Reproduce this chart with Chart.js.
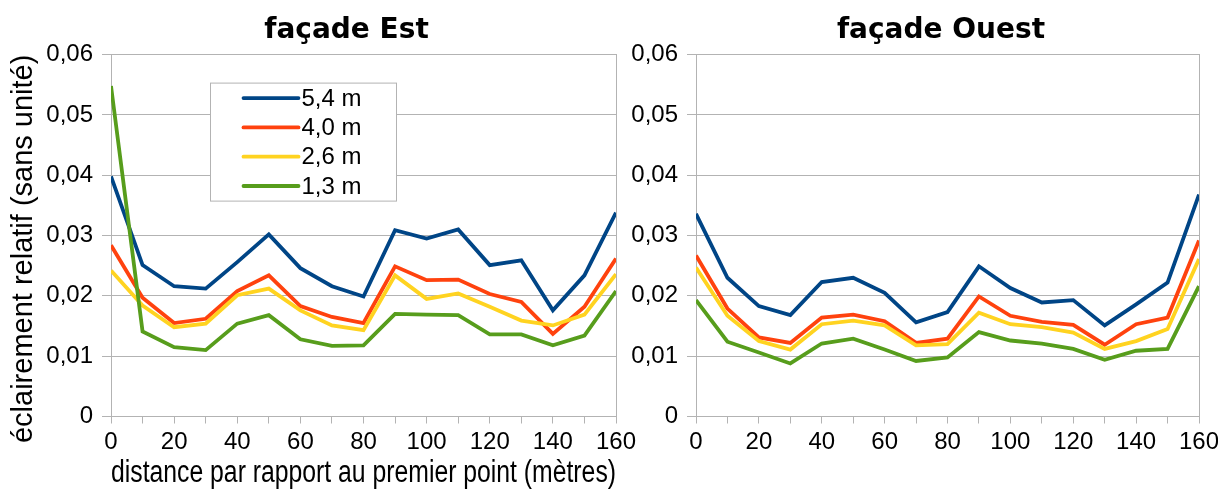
<!DOCTYPE html>
<html>
<head>
<meta charset="utf-8">
<script src="https://cdn.jsdelivr.net/npm/chart.js@4/dist/chart.umd.min.js"></script>
<style>
  html, body { margin:0; padding:0; background:#fff; width:1218px; height:491px; overflow:hidden; position:relative; }
  canvas { position:absolute; top:0; }
  #est { left:0; }
  #ouest { left:626px; }
</style>
</head>
<body>
<canvas id="est" width="693" height="491"></canvas>
<canvas id="ouest" width="630" height="491"></canvas>
<script>
// ---- data ----
const distances = [0,10,20,30,40,50,60,70,80,90,100,110,120,130,140,150,160];
const seriesNames = ['5,4 m','4,0 m','2,6 m','1,3 m'];
const seriesColors = ['#004586','#ff420e','#ffd320','#579d1c'];
const titles = ['façade Est','façade Ouest'];
const xAxisTitle = 'distance par rapport au premier point (mètres)';
const yAxisTitle = 'éclairement relatif (sans unité)';

const est54 = [0.0398,0.0251,0.0216,0.0212,0.0256,0.0302,0.0246,0.0216,0.0199,0.0309,0.0295,0.0310,0.0251,0.0259,0.0176,0.0234,0.0338];
const est40 = [0.0284,0.0197,0.0155,0.0162,0.0208,0.0234,0.0183,0.0165,0.0155,0.0249,0.0226,0.0227,0.0203,0.0190,0.0137,0.0182,0.0262];
const est26 = [0.0242,0.0184,0.0148,0.0154,0.0201,0.0212,0.0176,0.0151,0.0143,0.0234,0.0195,0.0204,0.0182,0.0159,0.0151,0.0169,0.0236];
const est13 = [0.0548,0.0141,0.0115,0.0110,0.0154,0.0168,0.0128,0.0117,0.0118,0.0170,0.0169,0.0168,0.0136,0.0136,0.0118,0.0134,0.0208];

const ouest54 = [0.0336,0.0230,0.0183,0.0168,0.0223,0.0230,0.0205,0.0156,0.0173,0.0249,0.0213,0.0189,0.0193,0.0151,0.0186,0.0222,0.0368];
const ouest40 = [0.0267,0.0179,0.0131,0.0122,0.0164,0.0169,0.0158,0.0122,0.0129,0.0199,0.0167,0.0157,0.0152,0.0119,0.0153,0.0164,0.0292];
const ouest26 = [0.0247,0.0167,0.0125,0.0111,0.0153,0.0159,0.0151,0.0118,0.0120,0.0172,0.0153,0.0148,0.0139,0.0112,0.0125,0.0145,0.0261];
const ouest13 = [0.0193,0.0124,0.0106,0.0088,0.0121,0.0129,0.0111,0.0092,0.0098,0.0140,0.0126,0.0121,0.0112,0.0094,0.0109,0.0112,0.0216];

// ---- styling ----
const GRID = '#b3b3b3';
const TXT = '#000';
const sans = "'Liberation Sans', Arial, sans-serif";

function makeDatasets(seriesList) {
  return seriesList.map((vals, i) => ({
    label: seriesNames[i],
    data: vals.map((v, k) => ({ x: distances[k], y: v })),
    borderColor: seriesColors[i],
    backgroundColor: seriesColors[i],
    borderWidth: 3.8,
    pointRadius: 0,
    tension: 0,
    order: seriesList.length - i
  }));
}

const insideLegend = {
  id: 'insideLegend',
  afterDatasetsDraw(chart, args, opts) {
    if (!opts.show) return;
    const ctx = chart.ctx, a = chart.chartArea;
    const x0 = a.left + 99.5, y0 = a.top + 28.5, w = 186, h = 118;
    ctx.save();
    ctx.fillStyle = '#fff';
    ctx.fillRect(x0, y0, w, h);
    ctx.strokeStyle = GRID; ctx.lineWidth = 1;
    ctx.strokeRect(x0, y0, w, h);
    ctx.font = "24px " + sans;
    ctx.textBaseline = 'middle';
    ctx.lineCap = 'round';
    chart.data.datasets.forEach((ds, i) => {
      const yy = y0 + 15 + i * 29.3;
      ctx.strokeStyle = ds.borderColor; ctx.lineWidth = 3.8;
      ctx.beginPath(); ctx.moveTo(x0 + 33, yy); ctx.lineTo(x0 + 88, yy); ctx.stroke();
      ctx.fillStyle = TXT;
      ctx.fillText(ds.label, x0 + 91, yy + 1, 90);
    });
    ctx.restore();
  }
};

function makeChart(id, title, seriesList, cfg) {
  return new Chart(document.getElementById(id), {
    type: 'line',
    data: { datasets: makeDatasets(seriesList) },
    plugins: [insideLegend],
    options: {
      responsive: false,
      animation: false,
      devicePixelRatio: 1,
      layout: { padding: 0 },
      plugins: {
        legend: { display: false },
        tooltip: { enabled: false },
        insideLegend: { show: cfg.legend },
        title: {
          display: true, text: title, color: TXT,
          font: { family: "'DejaVu Sans', sans-serif", size: 28, weight: 'bold', lineHeight: 1.2 },
          padding: { top: 14, bottom: 7 }
        }
      },
      scales: {
        x: {
          type: 'linear', min: 0, max: 160,
          afterFit: s => { s.height = 74.5; },
          ticks: {
            stepSize: 10, autoSkip: false, maxRotation: 0, padding: 4,
            color: TXT, font: { family: sans, size: 24 },
            callback: v => (v % 20 === 0 ? String(v) : '')
          },
          grid: { display: true, drawOnChartArea: false, drawTicks: true, tickLength: 7, color: GRID },
          border: { display: true, color: GRID, width: 1 },
          title: {
            display: cfg.xTitle, text: xAxisTitle, color: TXT,
            font: { family: sans, size: 31, lineHeight: 1 },
            padding: { top: 0, bottom: 2 }
          }
        },
        y: {
          type: 'linear', position: 'left', min: 0, max: 0.06,
          afterFit: s => { s.width = cfg.yWidth; },
          ticks: {
            stepSize: 0.01, padding: 9, color: TXT,
            font: { family: sans, size: 24 },
            callback: v => (Math.abs(v) < 1e-9 ? '0' : v.toFixed(2).replace('.', ','))
          },
          grid: { color: GRID, tickLength: 9, lineWidth: 1 },
          border: { display: true, color: GRID, width: 1 },
          title: {
            display: cfg.yTitle, text: yAxisTitle, color: TXT, align: 'end',
            font: { family: sans, size: 29, lineHeight: 1 },
            padding: { top: 9, bottom: 0 }
          }
        },
        yRight: {
          type: 'linear', position: 'right', min: 0, max: 0.06,
          afterFit: s => { s.width = cfg.rightWidth; },
          ticks: { display: false },
          grid: { display: true, drawOnChartArea: false, drawTicks: false, color: GRID },
          border: { display: true, color: GRID, width: 1 }
        }
      }
    }
  });
}

makeChart('est', titles[0], [est54, est40, est26, est13],
  { legend: true, xTitle: true, yTitle: true, yWidth: 111, rightWidth: 77 });
makeChart('ouest', titles[1], [ouest54, ouest40, ouest26, ouest13],
  { legend: false, xTitle: false, yTitle: false, yWidth: 70, rightWidth: 57 });
</script>
</body>
</html>
